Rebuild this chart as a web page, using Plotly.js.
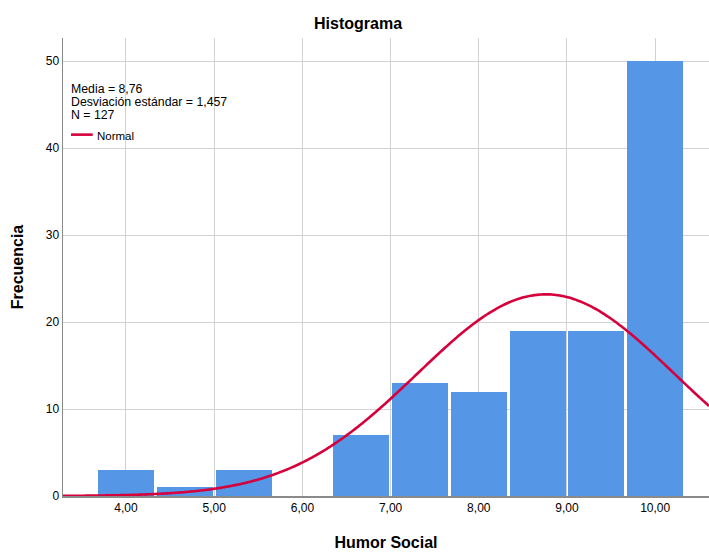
<!DOCTYPE html>
<html>
<head>
<meta charset="utf-8">
<script src="https://cdn.plot.ly/plotly-3.0.1.min.js"></script>
<style>html,body{margin:0;padding:0;background:#fff;}#chart{width:709px;height:552px;}</style>
</head>
<body>
<div id="chart"></div>
<script>
// Histogram bins (width 2/3) — centers and counts
const binCenters = [4.0, 4.6667, 5.3333, 6.0, 6.6667, 7.3333, 8.0, 8.6667, 9.3333, 10.0];
const counts     = [3, 1, 3, 0, 7, 13, 12, 19, 19, 50];
const binWidth = 2/3;
// Stated statistics
const mean = 8.76;
const sd = 1.457;
const n = 127;
const statLines = ['Media = 8,76', 'Desviación estándar = 1,457', 'N = 127'];
const xTicks = [4, 5, 6, 7, 8, 9, 10];
const yTicks = [0, 10, 20, 30, 40, 50];

const xMin = 3.286, xMax = 10.61;
const curveX = [], curveY = [];
for (let i = 0; i <= 300; i++) {
  const x = xMin + (xMax - xMin) * i / 300;
  const z = (x - mean) / sd;
  curveX.push(x);
  curveY.push(n * binWidth / (sd * Math.sqrt(2 * Math.PI)) * Math.exp(-0.5 * z * z));
}

const traces = [
  {
    type: 'bar', x: binCenters, y: counts, width: binWidth * 0.955,
    marker: {color: '#5596e6', line: {width: 0}},
    hoverinfo: 'x+y', showlegend: false
  },
  {
    type: 'scatter', mode: 'lines', x: curveX, y: curveY,
    line: {color: '#d5003c', width: 2.6, shape: 'spline'},
    showlegend: false, hoverinfo: 'skip'
  }
];

const font = 'Liberation Sans, Arial, sans-serif';
const statY = [0.8886, 0.8603, 0.8319];
const annotations = statLines.map((t, i) => ({
  xref: 'paper', yref: 'paper', x: 0.010, y: statY[i], xanchor: 'left', yanchor: 'middle',
  showarrow: false, text: t, font: {family: font, size: 12.3, color: '#000'}
}));
annotations.push({xref: 'paper', yref: 'paper', x: 0.0495, y: 0.786, xanchor: 'left', yanchor: 'middle',
  showarrow: false, text: 'Normal', font: {family: font, size: 11.5, color: '#000'}});

const layout = {
  width: 709, height: 552,
  margin: {l: 63, r: 0, t: 38, b: 56},
  paper_bgcolor: '#fff', plot_bgcolor: '#fff',
  separators: ',.',
  font: {family: font, size: 12, color: '#000'},
  title: {text: '<b>Histograma</b>', font: {family: font, size: 16, color: '#000'},
          x: 0.505, xref: 'container', xanchor: 'center', y: 0.958, yref: 'container', yanchor: 'middle'},
  xaxis: {
    range: [xMin, xMax], tickvals: xTicks, tickformat: '.2f',
    showgrid: true, gridcolor: '#d2d2d2', gridwidth: 1,
    showline: true, linecolor: '#8a8a8a', linewidth: 1.5,
    zeroline: false, ticks: '', ticklen: 0,
    tickfont: {family: font, size: 12, color: '#000'},
    title: {text: '<b>Humor Social</b>', font: {family: font, size: 16, color: '#000'}, standoff: 23}
  },
  yaxis: {
    range: [0, 52.65], tickvals: yTicks, tickformat: 'd',
    showgrid: true, gridcolor: '#d2d2d2', gridwidth: 1,
    showline: true, linecolor: '#8a8a8a', linewidth: 1.5,
    zeroline: false, ticks: '', ticklen: 0,
    tickfont: {family: font, size: 12, color: '#000'},
    title: {text: '<b>Frecuencia</b>', font: {family: font, size: 16, color: '#000'}, standoff: 18}
  },
  bargap: 0,
  annotations: annotations,
  shapes: [
    {type: 'line', xref: 'paper', yref: 'paper', x0: 0.0124, x1: 0.046, y0: 0.789, y1: 0.789,
     line: {color: '#d5003c', width: 2.6}}
  ]
};

Plotly.newPlot('chart', traces, layout, {displayModeBar: false, staticPlot: true});
</script>
</body>
</html>
